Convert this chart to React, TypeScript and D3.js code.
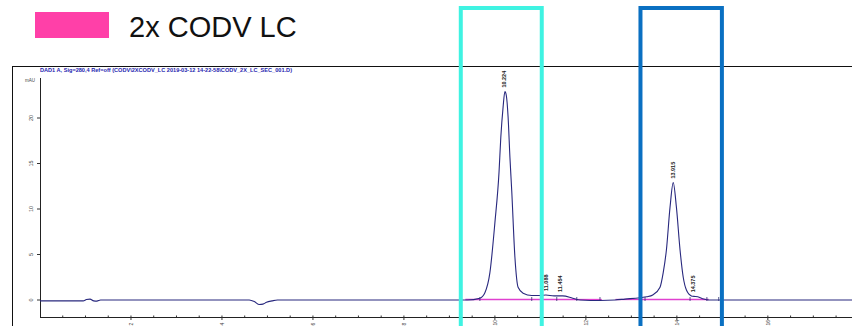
import React from 'react'
import * as d3 from 'd3'

// chromatogram trace (minutes, mAU)
const times = [0, 0.95, 1.02, 1.1, 1.18, 1.25, 1.33, 1.45, 4.6, 4.72, 4.82, 4.9, 4.98, 5.1, 5.22,
  9.4, 9.67, 9.78, 9.89, 10.0, 10.09, 10.13, 10.18, 10.22, 10.25, 10.29, 10.33, 10.37, 10.44, 10.51,
  10.62, 10.81, 11.0, 11.12, 11.3, 11.49, 11.71, 11.87, 12.1, 12.31, 12.64, 12.86, 13.19, 13.34, 13.47,
  13.63, 13.7, 13.77, 13.85, 13.92, 13.99, 14.07, 14.14, 14.21, 14.32, 14.37, 14.46, 14.59, 14.7, 15.0, 17.85]
const values = [-0.1, -0.1, 0.05, 0.1, -0.1, -0.12, 0, 0, 0, -0.2, -0.5, -0.45, -0.25, -0.1, 0,
  0, 0.2, 0.8, 3.0, 8.5, 14.0, 17.9, 21.2, 22.9, 22.5, 20.1, 15.7, 12.0, 4.7, 1.4,
  0.75, 0.5, 0.5, 0.55, 0.45, 0.45, 0.2, 0, -0.05, -0.05, 0, 0.1, 0.25, 0.35, 0.55,
  1.4, 3.0, 5.5, 10.2, 12.9, 10.2, 5.5, 2.5, 1.1, 0.45, 0.4, 0.35, 0.1, 0, 0, 0]

// integrated peaks: retention time, label, apex height
const peakTimes = [10.22, 11.14, 11.45, 13.92, 14.37]
const peakLabels = ['10.224', '11.088', '11.454', '13.915', '14.375']
const peakHeights = [22.9, 0.55, 0.45, 12.9, 0.4]

// integration baselines (start, end) in minutes
const baseStarts = [9.35, 11.8, 12.65, 13.2]
const baseEnds = [11.8, 12.35, 13.2, 14.7]
const eventTimes = [9.67, 10.81, 11.36, 11.8, 12.31, 13.3, 14.29, 14.66, 14.92]

const yTicks = [0, 5, 10, 15, 20]
const xMajor = [2, 4, 6, 8, 10, 12, 14, 16]
const xMinor = d3.range(0.5, 17.9, 0.5)

// highlighted windows (minutes)
const boxStarts = [9.25, 13.2]
const boxEnds = [11.03, 14.99]
const boxColors = ['#3ff3e2', '#0a70c2']

const legendLabel = '2x CODV LC'
const titleText = 'DAD1 A, Sig=280,4 Ref=off (CODV\\2XCODV_LC 2019-03-12 14-22-58\\CODV_2X_LC_SEC_001.D)'

export default function App() {
  const W = 852, H = 326
  const x = d3.scaleLinear().domain([0, 17.85]).range([40, 852])
  const y = d3.scaleLinear().domain([0, 20]).range([300, 118])
  const pts = times.map((t, i) => [t, values[i]] as [number, number])
  const line = d3.line<[number, number]>().x(d => x(d[0])).y(d => y(d[1])).curve(d3.curveMonotoneX)
  const font = 'Liberation Sans, Arial, sans-serif'

  return (
    <svg width={W} height={H} style={{ position: 'absolute', left: 0, top: 0, background: '#fff' }} fontFamily={font}>
      {/* legend */}
      <rect x={35} y={12} width={74} height={26} fill="#ff40a8" />
      <text x={129} y={37} fontSize={29} fill="#111">{legendLabel}</text>

      {/* outer frame */}
      <line x1={12} x2={W} y1={66.5} y2={66.5} stroke="#111" strokeWidth={1} />
      <line x1={12.5} x2={12.5} y1={66} y2={H} stroke="#111" strokeWidth={1} />
      <text x={40} y={71.5} fontSize={6} fontWeight="bold" fill="#1e1eb0" textLength={252} lengthAdjust="spacingAndGlyphs">{titleText}</text>

      {/* axes */}
      <line x1={40.5} x2={40.5} y1={78} y2={317} stroke="#222" strokeWidth={1} />
      <line x1={40} x2={W} y1={317.5} y2={317.5} stroke="#222" strokeWidth={1} />
      <text x={25} y={82} fontSize={4.5} fill="#444">mAU</text>
      {yTicks.map(v => (
        <g key={'y' + v}>
          <line x1={37} x2={40} y1={y(v)} y2={y(v)} stroke="#333" />
          <text transform={`translate(33,${y(v)}) rotate(-90)`} textAnchor="middle" fontSize={5.5} fill="#444">{v}</text>
        </g>
      ))}
      {xMinor.map(t => (
        <line key={'m' + t} x1={x(t)} x2={x(t)} y1={315.5} y2={317} stroke="#333" />
      ))}
      {xMajor.map(t => (
        <g key={'x' + t}>
          <line x1={x(t)} x2={x(t)} y1={317} y2={320} stroke="#333" />
          <text transform={`translate(${x(t) + 2},325.5) rotate(-90)`} textAnchor="start" fontSize={5} fill="#444">{t}</text>
        </g>
      ))}

      {/* integration baselines */}
      {baseStarts.map((s, i) => (
        <line key={'b' + i} x1={x(s)} x2={x(baseEnds[i])} y1={y(0) - 0.5} y2={y(0) - 0.5} stroke="#e040d0" strokeWidth={1.3} />
      ))}
      {eventTimes.map((t, i) => (
        <line key={'e' + i} x1={x(t)} x2={x(t)} y1={y(0) - 3} y2={y(0) + 1} stroke="#303070" strokeWidth={0.8} />
      ))}

      {/* trace */}
      <path d={line(pts) || ''} fill="none" stroke="#28287e" strokeWidth={1.1} />

      {/* peak labels */}
      {peakTimes.map((t, i) => (
        <text key={'p' + i} transform={`translate(${x(t) + 1.5},${y(peakHeights[i]) - 4}) rotate(-90)`}
          fontSize={5.5} fontWeight="bold" fill="#222">{peakLabels[i]}</text>
      ))}

      {/* highlight boxes */}
      {boxStarts.map((s, i) => (
        <rect key={'box' + i} x={x(s)} y={8} width={x(boxEnds[i]) - x(s)} height={H + 20}
          fill="none" stroke={boxColors[i]} strokeWidth={4} />
      ))}
    </svg>
  )
}
